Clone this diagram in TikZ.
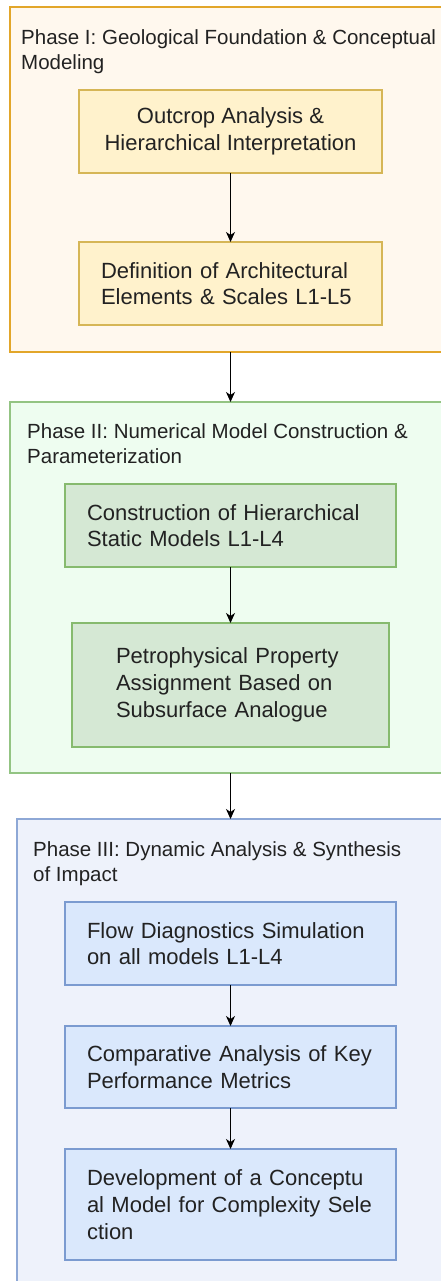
\documentclass[tikz,border=0pt]{standalone}
\usepackage{fontspec}
\setmainfont{Liberation Sans}
\usetikzlibrary{arrows.meta,calc}
\definecolor{pIfill}{HTML}{FFF8EE}
\definecolor{pIline}{HTML}{E2A62A}
\definecolor{bIfill}{HTML}{FFF2CC}
\definecolor{bIline}{HTML}{D6B656}
\definecolor{pIIfill}{HTML}{EEFDF0}
\definecolor{pIIline}{HTML}{93C483}
\definecolor{bIIfill}{HTML}{D5E8D4}
\definecolor{bIIline}{HTML}{86BA6E}
\definecolor{pIIIfill}{HTML}{EEF2FB}
\definecolor{pIIIline}{HTML}{8EA8D6}
\definecolor{bIIIfill}{HTML}{DAE8FC}
\definecolor{bIIIline}{HTML}{7B9BD0}
\definecolor{txt}{HTML}{222222}
\begin{document}
\begin{tikzpicture}[x=1pt,y=-1pt,
  phase/.style={draw, line width=1.3pt, rectangle, inner sep=0pt, outer sep=0pt, anchor=north west},
  phasetitle/.style={anchor=base west, inner sep=0pt, align=left, text=txt,
    font=\fontsize{20.5}{25}\selectfont},
  stepbox/.style={draw, line width=1.2pt, rectangle, inner ysep=0pt, outer sep=0pt,
    text=txt, font=\fontsize{22}{26.7}\selectfont},
  flow/.style={-{Stealth[length=10pt,width=9pt,inset=3pt]}, line width=1.1pt, black}
]
\useasboundingbox (0,0) rectangle (441,1281);
\clip (0,0) rectangle (441,1281);
\fill[white] (0,0) rectangle (441,1281);

% containers
\node[phase, fill=pIfill, draw=pIline, minimum width=460, minimum height=345] (p1) at (10,7) {};
\node[phase, fill=pIIfill, draw=pIIline, minimum width=460, minimum height=371] (p2) at (10,402) {};
\node[phase, fill=pIIIfill, draw=pIIIline, minimum width=460, minimum height=500] (p3) at (17,819) {};

% titles (base anchor = baseline of last line)
\node[phasetitle] (t1) at (21,70) {Phase I: Geological Foundation \& Conceptual\\Modeling};
\node[phasetitle] (t2) at (27,463) {Phase II: Numerical Model Construction \&\\Parameterization};
\node[phasetitle] (t3) at (33,881) {Phase III: Dynamic Analysis \& Synthesis\\of Impact};

% steps
\node[stepbox, fill=bIfill, draw=bIline, minimum width=303, minimum height=83, align=center]
  (b1) at (230.5,131.5) {Outcrop Analysis \&\\Hierarchical Interpretation};
\node[stepbox, fill=bIfill, draw=bIline, minimum width=303, minimum height=83, align=left,
  inner xsep=22pt, text width=259pt]
  (b2) at (230.5,283.5) {Definition of Architectural\\Elements \& Scales L1-L5};

\node[stepbox, fill=bIIfill, draw=bIIline, minimum width=331, minimum height=83, align=left,
  inner xsep=22pt, text width=287pt]
  (b3) at (230.5,525.5) {Construction of Hierarchical\\Static Models L1-L4};
\node[stepbox, fill=bIIfill, draw=bIIline, minimum width=317, minimum height=124, align=left,
  inner xsep=44pt, text width=229pt]
  (b4) at (230.5,685) {Petrophysical Property\\Assignment Based on\\Subsurface Analogue};

\node[stepbox, fill=bIIIfill, draw=bIIIline, minimum width=331, minimum height=83, align=left,
  inner xsep=22pt, text width=287pt]
  (b5) at (230.5,943.5) {Flow Diagnostics Simulation\\on all models L1-L4};
\node[stepbox, fill=bIIIfill, draw=bIIIline, minimum width=331, minimum height=82, align=left,
  inner xsep=22pt, text width=287pt]
  (b6) at (230.5,1067) {Comparative Analysis of Key\\Performance Metrics};
\node[stepbox, fill=bIIIfill, draw=bIIIline, minimum width=331, minimum height=111, align=left,
  inner xsep=22pt, text width=287pt]
  (b7) at (230.5,1204.5) {Development of a Conceptu\\al Model for Complexity Sele\\ction};

% connectors
\draw[flow] (b1.south) -- (b2.north);
\draw[flow] (b2.south |- p1.south) -- (b2.south |- p2.north);
\draw[flow] (b3.south) -- (b4.north);
\draw[flow] (b4.south |- p2.south) -- (b4.south |- p3.north);
\draw[flow] (b5.south) -- (b6.north);
\draw[flow] (b6.south) -- (b7.north);
\end{tikzpicture}
\end{document}
